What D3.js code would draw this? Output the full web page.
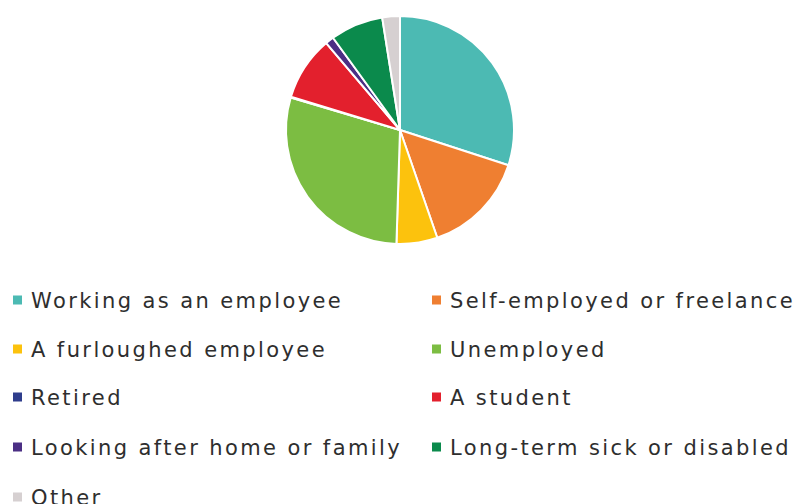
<!DOCTYPE html>
<html>
<head>
<meta charset="utf-8">
<script src="https://cdn.jsdelivr.net/npm/d3@7"></script>
<style>
  html, body { margin: 0; padding: 0; background: #fff; }
  svg { display: block; }
  .legend text { font-family: "DejaVu Sans", sans-serif; font-size: 21px; letter-spacing: 2.4px; fill: #2e2e2e; }
</style>
</head>
<body>
<svg id="chart" width="795" height="504"></svg>
<script>
// Employment status shares (percent)
const categories = [
  "Working as an employee",
  "Self-employed or freelance",
  "A furloughed employee",
  "Unemployed",
  "Retired",
  "A student",
  "Looking after home or family",
  "Long-term sick or disabled",
  "Other"
];
const values = [30.0, 14.7, 5.8, 29.1, 0.1, 9.1, 1.2, 7.5, 2.5];
const colors = ["#4cbab3", "#ef7f31", "#fcc20d", "#7cbd42", "#2f3d8c", "#e3202d", "#4b2f84", "#0b8a4c", "#d6d0d1"];

const svg = d3.select("#chart");
const cx = 400, cy = 130, radius = 114;

const color = d3.scaleOrdinal().domain(categories).range(colors);
const data = categories.map((c, i) => ({ name: c, value: values[i] }));

const pie = d3.pie().value(d => d.value).sort(null);
const arc = d3.arc().innerRadius(0).outerRadius(radius);

svg.append("g")
  .attr("transform", `translate(${cx},${cy})`)
  .selectAll("path")
  .data(pie(data))
  .join("path")
  .attr("d", arc)
  .attr("fill", d => color(d.data.name))
  .attr("stroke", "#fff")
  .attr("stroke-width", 2)
  .attr("stroke-linejoin", "round");

// Legend: two columns, row-major order
const colX = [13, 432];
const rowY = [300, 349, 397, 447, 497];
const legend = svg.append("g").attr("class", "legend");
const items = legend.selectAll("g")
  .data(data)
  .join("g")
  .attr("transform", (d, i) => `translate(${colX[i % 2]},${rowY[Math.floor(i / 2)]})`);
items.append("rect")
  .attr("x", 0).attr("y", -4.5)
  .attr("width", 9).attr("height", 9)
  .attr("fill", d => color(d.name));
items.append("text")
  .attr("x", 18)
  .attr("dy", "0.36em")
  .text(d => d.name);
</script>
</body>
</html>
